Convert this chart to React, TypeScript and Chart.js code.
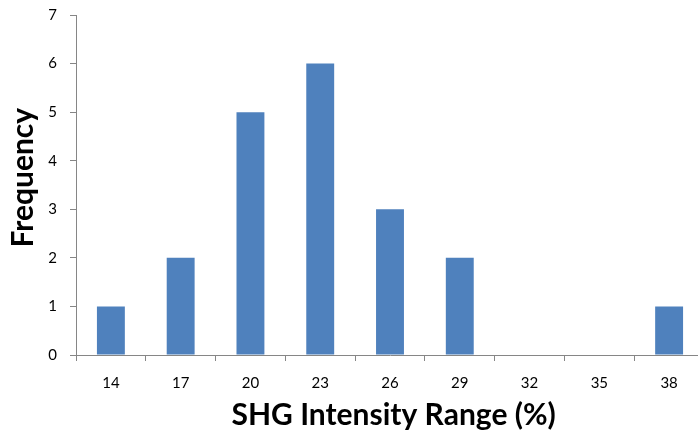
import React, { useEffect, useRef } from "react";
import { Chart, registerables } from "chart.js";

Chart.register(...registerables);

const categories = ["14", "17", "20", "23", "26", "29", "32", "35", "38"];
const frequency = [1, 2, 5, 6, 3, 2, 0, 0, 1];
const yTicks = [0, 1, 2, 3, 4, 5, 6, 7];

const FONT = "Lato, 'Open Sans', sans-serif";
const AXIS = "#868686";

export default function App() {
  const ref = useRef<HTMLCanvasElement | null>(null);
  useEffect(() => {
    document.body.style.margin = "0";
    document.body.style.overflow = "hidden";
    const chart = new Chart(ref.current!, {
      type: "bar",
      data: {
        labels: categories,
        datasets: [
          {
            data: frequency,
            backgroundColor: "#4F81BD",
            borderWidth: 0,
            barPercentage: 0.4,
            categoryPercentage: 1,
          },
        ],
      },
      options: {
        responsive: false,
        animation: false,
        devicePixelRatio: 1,
        layout: { padding: { top: 0, left: 0, right: 0, bottom: 0 } },
        plugins: { legend: { display: false }, tooltip: { enabled: false } },
        scales: {
          x: {
            grid: { display: true, offset: true, drawOnChartArea: false, drawTicks: true, tickLength: 6, color: AXIS },
            border: { color: AXIS, width: 1 },
            ticks: { color: "#000", font: { family: FONT, size: 15 }, padding: 13, maxRotation: 0 },
            title: {
              display: true,
              text: " SHG Intensity Range (%)",
              color: "#000",
              font: { family: FONT, size: 30, weight: "bold" },
              padding: { top: 0, bottom: 2 },
            },
            afterFit: (s: any) => { s.height = 80; },
          },
          y: {
            min: 0,
            max: 7,
            afterBuildTicks: (s: any) => { s.ticks = yTicks.map((v) => ({ value: v })); },
            grid: { display: true, drawOnChartArea: false, drawTicks: true, tickLength: 6, color: AXIS },
            border: { color: AXIS, width: 1 },
            ticks: { color: "#000", font: { family: FONT, size: 15 }, padding: 13 },
            title: {
              display: true,
              text: "  Frequency",
              color: "#000",
              font: { family: FONT, size: 30, weight: "bold" },
              padding: { top: 5, bottom: 0 },
            },
            afterFit: (s: any) => { s.width = 76; },
          },
        },
      },
    });
    return () => chart.destroy();
  }, []);
  return (
    <div style={{ position: "fixed", left: 0, top: 0, width: 698, height: 435, overflow: "hidden" }}>
      <canvas ref={ref} width={704} height={442} style={{ display: "block", marginTop: -7 }} />
    </div>
  );
}
